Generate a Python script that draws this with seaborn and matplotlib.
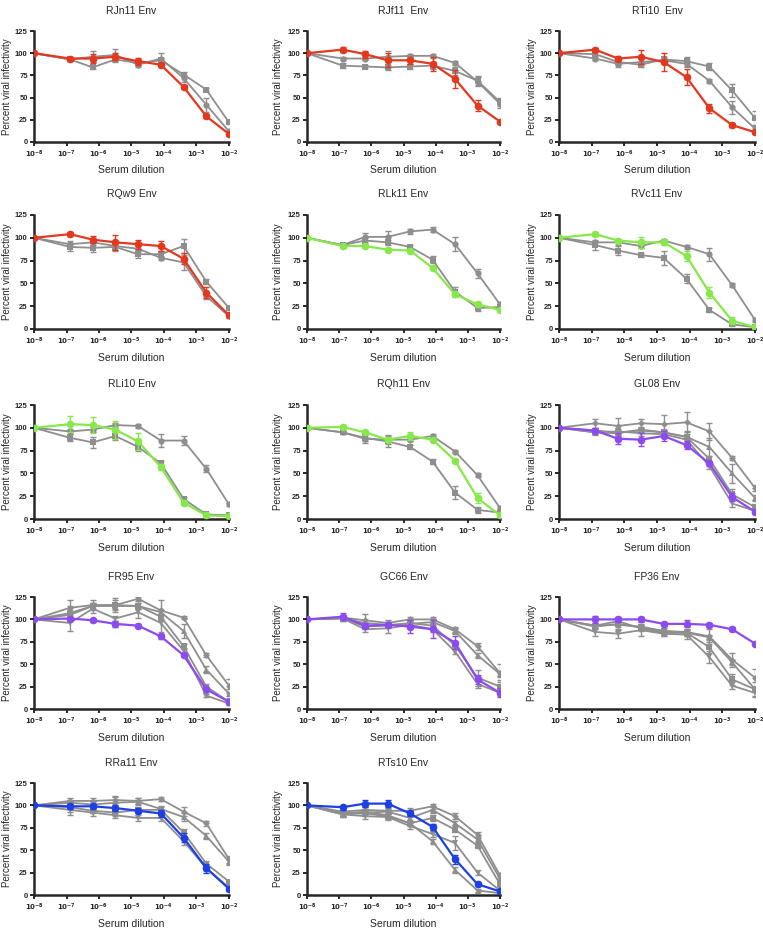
import numpy as np
import pandas as pd
import matplotlib
matplotlib.use("Agg")
import matplotlib.pyplot as plt
import seaborn as sns

# serum dilutions (5-fold series, plus no-serum control plotted at 1e-8)
dilution = [1e-8, 1.28e-7, 6.4e-7, 3.2e-6, 1.6e-5, 8e-5, 4e-4, 2e-3, 1e-2]
xtick_pos = [1e-8, 1e-7, 1e-6, 1e-5, 1e-4, 1e-3, 1e-2]
xtick_labels = [r"$\mathbf{10^{-8}}$", r"$\mathbf{10^{-7}}$", r"$\mathbf{10^{-6}}$",
                r"$\mathbf{10^{-5}}$", r"$\mathbf{10^{-4}}$", r"$\mathbf{10^{-3}}$",
                r"$\mathbf{10^{-2}}$"]
ytick_pos = [0, 25, 50, 75, 100, 125]

titles = ["RJn11 Env", "RJf11  Env", "RTi10  Env",
          "RQw9 Env", "RLk11 Env", "RVc11 Env",
          "RLi10 Env", "RQh11 Env", "GL08 Env",
          "FR95 Env", "GC66 Env", "FP36 Env",
          "RRa11 Env", "RTs10 Env"]

# values, error bars
rjn11_red = [100, 94, 94, 96, 91, 87, 62, 29, 9]
rjn11_red_err = [0, 2, 5, 4, 4, 2, 2, 2, 2]
rjn11_gray_o = [100, 93, 96, 98, 87, 94, 72, 42, 12]
rjn11_gray_o_err = [0, 2, 6, 7, 3, 6, 4, 8, 2]
rjn11_gray_s = [100, 93, 84, 93, 89, 92, 76, 59, 22]
rjn11_gray_s_err = [0, 2, 2, 3, 2, 3, 3, 2, 2]

rjf11_red = [100, 104, 99, 92, 92, 88, 71, 41, 23]
rjf11_red_err = [0, 3, 4, 8, 4, 8, 10, 6, 1]
rjf11_gray_o = [100, 94, 94, 96, 97, 97, 89, 68, 43]
rjf11_gray_o_err = [0, 2, 2, 6, 2, 2, 2, 5, 5]
rjf11_gray_s = [100, 86, 85, 84, 85, 86, 80, 69, 45]
rjf11_gray_s_err = [0, 3, 2, 3, 3, 4, 4, 5, 4]

rti10_red = [100, 104, 94, 96, 90, 73, 38, 19, 11]
rti10_red_err = [0, 2, 3, 8, 10, 9, 5, 2, 2]
rti10_gray_o = [100, 94, 88, 90, 92, 88, 69, 39, 15]
rti10_gray_o_err = [0, 2, 4, 3, 3, 4, 2, 7, 3]
rti10_gray_s = [100, 99, 90, 87, 93, 91, 85, 58, 27]
rti10_gray_s_err = [0, 2, 3, 3, 3, 5, 4, 7, 8]

rqw9_red = [100, 104, 98, 95, 93, 91, 77, 40, 15]
rqw9_red_err = [0, 2, 4, 8, 5, 6, 6, 6, 2]
rqw9_gray_o = [100, 93, 95, 91, 88, 78, 73, 36, 14]
rqw9_gray_o_err = [0, 3, 3, 4, 3, 2, 8, 3, 2]
rqw9_gray_s = [100, 90, 89, 90, 82, 82, 91, 52, 23]
rqw9_gray_s_err = [0, 4, 5, 4, 4, 3, 8, 3, 2]

rlk11_green = [100, 91, 91, 87, 86, 67, 38, 27, 21]
rlk11_green_err = [0, 2, 2, 2, 2, 2, 3, 3, 2]
rlk11_gray_o = [100, 92, 101, 101, 107, 109, 93, 61, 27]
rlk11_gray_o_err = [0, 2, 4, 6, 3, 3, 8, 5, 3]
rlk11_gray_s = [100, 92, 97, 95, 90, 76, 41, 23, 24]
rlk11_gray_s_err = [0, 2, 3, 3, 2, 4, 5, 3, 3]

rvc11_green = [100, 104, 97, 95, 95, 80, 40, 9, 2]
rvc11_green_err = [0, 2, 2, 6, 3, 5, 6, 4, 1]
rvc11_gray_o = [100, 95, 95, 91, 97, 90, 82, 48, 10]
rvc11_gray_o_err = [0, 3, 3, 2, 2, 2, 7, 2, 2]
rvc11_gray_s = [100, 92, 86, 81, 78, 55, 21, 5, 2]
rvc11_gray_s_err = [0, 5, 5, 2, 8, 5, 2, 2, 1]

rli10_green = [100, 104, 103, 98, 85, 57, 18, 4, 3]
rli10_green_err = [0, 9, 9, 10, 9, 3, 3, 2, 2]
rli10_gray_o = [100, 96, 98, 103, 102, 86, 86, 55, 16]
rli10_gray_o_err = [0, 3, 3, 2, 2, 7, 5, 4, 2]
rli10_gray_s = [100, 89, 84, 91, 79, 61, 22, 5, 4]
rli10_gray_s_err = [0, 4, 6, 4, 4, 3, 2, 2, 2]

rqh11_green = [100, 101, 95, 87, 91, 87, 64, 23, 4]
rqh11_green_err = [0, 2, 2, 3, 4, 2, 2, 5, 2]
rqh11_gray_o = [100, 95, 88, 87, 87, 91, 74, 48, 12]
rqh11_gray_o_err = [0, 2, 5, 5, 2, 2, 2, 2, 2]
rqh11_gray_s = [100, 95, 89, 85, 79, 63, 29, 10, 7]
rqh11_gray_s_err = [0, 2, 3, 6, 2, 3, 7, 3, 2]

gl08_purple = [100, 97, 88, 87, 91, 81, 61, 24, 8]
gl08_purple_err = [0, 3, 6, 7, 5, 4, 3, 4, 2]
gl08_gray_d = [100, 105, 102, 105, 104, 106, 96, 67, 34]
gl08_gray_d_err = [0, 5, 9, 5, 10, 11, 9, 2, 3]
gl08_gray_t = [100, 95, 94, 98, 95, 90, 79, 50, 23]
gl08_gray_t_err = [0, 3, 3, 3, 3, 7, 10, 10, 3]
gl08_gray_s = [100, 97, 95, 97, 95, 90, 66, 27, 13]
gl08_gray_s_err = [0, 2, 3, 3, 3, 3, 3, 6, 3]
gl08_gray_v = [100, 95, 96, 94, 93, 87, 58, 17, 9]
gl08_gray_v_err = [0, 2, 3, 3, 3, 3, 3, 4, 2]

fr95_purple = [100, 101, 99, 95, 93, 81, 60, 22, 8]
fr95_purple_err = [0, 2, 2, 3, 2, 3, 2, 3, 2]
fr95_gray_d = [100, 113, 116, 116, 123, 110, 102, 60, 26]
fr95_gray_d_err = [0, 9, 6, 8, 2, 12, 2, 2, 8]
fr95_gray_t = [100, 105, 115, 115, 115, 108, 87, 44, 17]
fr95_gray_t_err = [0, 3, 3, 3, 3, 3, 8, 4, 5]
fr95_gray_s = [100, 107, 115, 116, 115, 103, 70, 25, 8]
fr95_gray_s_err = [0, 8, 3, 6, 3, 3, 3, 3, 2]
fr95_gray_v = [100, 96, 112, 101, 108, 96, 65, 15, 6]
fr95_gray_v_err = [0, 9, 5, 3, 6, 10, 3, 2, 2]

gc66_purple = [100, 103, 93, 94, 92, 89, 74, 33, 18]
gc66_purple_err = [0, 4, 3, 3, 7, 10, 7, 5, 5]
gc66_gray_d = [100, 102, 99, 96, 100, 100, 89, 70, 40]
gc66_gray_d_err = [0, 3, 7, 3, 3, 3, 3, 4, 10]
gc66_gray_t = [100, 101, 96, 94, 95, 97, 87, 60, 39]
gc66_gray_t_err = [0, 3, 3, 3, 3, 3, 3, 3, 3]
gc66_gray_s = [100, 102, 92, 93, 96, 93, 71, 35, 25]
gc66_gray_s_err = [0, 3, 3, 3, 3, 3, 3, 9, 7]
gc66_gray_v = [100, 101, 89, 90, 94, 89, 64, 28, 18]
gc66_gray_v_err = [0, 3, 3, 5, 3, 3, 3, 5, 3]

fp36_purple = [100, 100, 100, 100, 95, 95, 94, 89, 73]
fp36_purple_err = [0, 4, 3, 3, 2, 4, 2, 2, 2]
fp36_gray_d = [100, 93, 94, 92, 87, 86, 81, 55, 35]
fp36_gray_d_err = [0, 3, 3, 3, 3, 3, 8, 8, 10]
fp36_gray_t = [100, 93, 98, 90, 85, 85, 80, 52, 22]
fp36_gray_t_err = [0, 3, 3, 3, 3, 3, 3, 3, 3]
fp36_gray_s = [100, 92, 95, 91, 87, 85, 69, 33, 22]
fp36_gray_s_err = [0, 3, 7, 3, 3, 3, 6, 6, 8]
fp36_gray_v = [100, 86, 84, 88, 84, 83, 58, 26, 18]
fp36_gray_v_err = [0, 4, 5, 6, 3, 5, 7, 4, 5]

rra11_blue = [100, 99, 99, 97, 94, 91, 64, 30, 7]
rra11_blue_err = [0, 3, 3, 3, 3, 4, 5, 5, 2]
rra11_gray_d = [100, 105, 105, 106, 105, 107, 93, 80, 40]
rra11_gray_d_err = [0, 3, 3, 3, 3, 2, 5, 3, 4]
rra11_gray_t = [100, 103, 101, 103, 104, 96, 87, 66, 37]
rra11_gray_t_err = [0, 3, 3, 8, 4, 3, 4, 3, 4]
rra11_gray_s = [100, 98, 94, 92, 95, 95, 70, 35, 15]
rra11_gray_s_err = [0, 5, 3, 4, 3, 3, 4, 3, 2]
rra11_gray_v = [100, 95, 92, 89, 86, 86, 60, 30, 8]
rra11_gray_v_err = [0, 6, 4, 3, 3, 3, 4, 3, 2]

rts10_blue = [100, 98, 102, 102, 91, 76, 40, 12, 4]
rts10_blue_err = [0, 3, 4, 4, 3, 3, 5, 2, 1]
rts10_gray_d = [100, 93, 95, 94, 94, 99, 88, 67, 22]
rts10_gray_d_err = [0, 3, 3, 3, 3, 3, 3, 3, 3]
rts10_gray_t = [100, 90, 92, 93, 86, 95, 80, 62, 18]
rts10_gray_t_err = [0, 3, 3, 3, 3, 3, 3, 3, 3]
rts10_gray_s = [100, 91, 91, 88, 80, 86, 73, 55, 12]
rts10_gray_s_err = [0, 3, 3, 3, 3, 3, 3, 3, 3]
rts10_gray_v = [100, 90, 88, 87, 77, 68, 58, 25, 5]
rts10_gray_v_err = [0, 3, 3, 3, 3, 3, 8, 3, 2]
rts10_gray_o = [100, 91, 93, 89, 80, 60, 28, 5, 2]
rts10_gray_o_err = [0, 3, 3, 3, 3, 3, 3, 2, 1]

GRAY = "#8e8e8e"
RED = "#e2381f"
GREEN = "#86e84a"
PURPLE = "#8b4bef"
BLUE = "#1d3fe4"

# (values, errors, marker, color) per panel; colored series last so it sits on top
panels = [
    [(rjn11_gray_o, rjn11_gray_o_err, "o", GRAY), (rjn11_gray_s, rjn11_gray_s_err, "s", GRAY),
     (rjn11_red, rjn11_red_err, "o", RED)],
    [(rjf11_gray_o, rjf11_gray_o_err, "o", GRAY), (rjf11_gray_s, rjf11_gray_s_err, "s", GRAY),
     (rjf11_red, rjf11_red_err, "o", RED)],
    [(rti10_gray_o, rti10_gray_o_err, "o", GRAY), (rti10_gray_s, rti10_gray_s_err, "s", GRAY),
     (rti10_red, rti10_red_err, "o", RED)],
    [(rqw9_gray_o, rqw9_gray_o_err, "o", GRAY), (rqw9_gray_s, rqw9_gray_s_err, "s", GRAY),
     (rqw9_red, rqw9_red_err, "o", RED)],
    [(rlk11_gray_o, rlk11_gray_o_err, "o", GRAY), (rlk11_gray_s, rlk11_gray_s_err, "s", GRAY),
     (rlk11_green, rlk11_green_err, "o", GREEN)],
    [(rvc11_gray_o, rvc11_gray_o_err, "o", GRAY), (rvc11_gray_s, rvc11_gray_s_err, "s", GRAY),
     (rvc11_green, rvc11_green_err, "o", GREEN)],
    [(rli10_gray_o, rli10_gray_o_err, "o", GRAY), (rli10_gray_s, rli10_gray_s_err, "s", GRAY),
     (rli10_green, rli10_green_err, "o", GREEN)],
    [(rqh11_gray_o, rqh11_gray_o_err, "o", GRAY), (rqh11_gray_s, rqh11_gray_s_err, "s", GRAY),
     (rqh11_green, rqh11_green_err, "o", GREEN)],
    [(gl08_gray_d, gl08_gray_d_err, "D", GRAY), (gl08_gray_t, gl08_gray_t_err, "^", GRAY),
     (gl08_gray_s, gl08_gray_s_err, "s", GRAY), (gl08_gray_v, gl08_gray_v_err, "v", GRAY),
     (gl08_purple, gl08_purple_err, "o", PURPLE)],
    [(fr95_gray_d, fr95_gray_d_err, "D", GRAY), (fr95_gray_t, fr95_gray_t_err, "^", GRAY),
     (fr95_gray_s, fr95_gray_s_err, "s", GRAY), (fr95_gray_v, fr95_gray_v_err, "v", GRAY),
     (fr95_purple, fr95_purple_err, "o", PURPLE)],
    [(gc66_gray_d, gc66_gray_d_err, "D", GRAY), (gc66_gray_t, gc66_gray_t_err, "^", GRAY),
     (gc66_gray_s, gc66_gray_s_err, "s", GRAY), (gc66_gray_v, gc66_gray_v_err, "v", GRAY),
     (gc66_purple, gc66_purple_err, "o", PURPLE)],
    [(fp36_gray_d, fp36_gray_d_err, "D", GRAY), (fp36_gray_t, fp36_gray_t_err, "^", GRAY),
     (fp36_gray_s, fp36_gray_s_err, "s", GRAY), (fp36_gray_v, fp36_gray_v_err, "v", GRAY),
     (fp36_purple, fp36_purple_err, "o", PURPLE)],
    [(rra11_gray_d, rra11_gray_d_err, "D", GRAY), (rra11_gray_t, rra11_gray_t_err, "^", GRAY),
     (rra11_gray_s, rra11_gray_s_err, "s", GRAY), (rra11_gray_v, rra11_gray_v_err, "v", GRAY),
     (rra11_blue, rra11_blue_err, "o", BLUE)],
    [(rts10_gray_d, rts10_gray_d_err, "D", GRAY), (rts10_gray_t, rts10_gray_t_err, "^", GRAY),
     (rts10_gray_s, rts10_gray_s_err, "s", GRAY), (rts10_gray_v, rts10_gray_v_err, "v", GRAY),
     (rts10_gray_o, rts10_gray_o_err, "^", GRAY),
     (rts10_blue, rts10_blue_err, "o", BLUE)],
]

sns.set_style("ticks")
plt.rcParams["font.family"] = ["Liberation Sans", "DejaVu Sans"]

W, H = 763, 931
fig = plt.figure(figsize=(W / 100, H / 100), dpi=100)

# pixel extents of each column / row of axes
col_x = [(34, 229), (307, 500), (559, 755)]
row_y = [(31, 142), (215, 329), (405, 519), (597, 709), (783, 895)]
ylab_x = [-0.115, -0.125, -0.11]

for i, (title, series) in enumerate(zip(titles, panels)):
    r, c = divmod(i, 3)
    x0, x1 = col_x[c]
    y0, y1 = row_y[r]
    ax = fig.add_axes([x0 / W, 1 - y1 / H, (x1 - x0) / W, (y1 - y0) / H])
    ax.set_xscale("log")

    for vals, err, mk, color in series:
        colored = color != GRAY
        lw = 1.6 if colored else 1.3
        ms = 5.5 if colored else (3.5 if mk == "D" else 4.5)
        df = pd.DataFrame({"dilution": dilution, "pct": vals})
        ax.errorbar(dilution, vals, yerr=err, fmt="none", ecolor=color,
                    elinewidth=1.0, capsize=2.5, capthick=1.0, zorder=3 if colored else 2)
        sns.lineplot(data=df, x="dilution", y="pct", ax=ax, color=color, lw=lw,
                     marker=mk, markersize=ms, markeredgewidth=0,
                     zorder=4 if colored else 2, legend=False)

    ax.set_xlim(1e-8, 1e-2)
    ax.set_ylim(0, 125)
    ax.set_xticks(xtick_pos)
    ax.set_xticklabels(xtick_labels, fontsize=5)
    ax.xaxis.set_minor_locator(matplotlib.ticker.NullLocator())
    ax.set_yticks(ytick_pos)
    ax.set_yticklabels([str(v) for v in ytick_pos], fontsize=5.5, fontweight="bold")
    ax.tick_params(width=1.4, length=3, pad=1.5)
    for s in ["left", "bottom"]:
        ax.spines[s].set_linewidth(1.8)
    sns.despine(ax=ax)

    ax.set_xlabel("Serum dilution", fontsize=7.5)
    ax.xaxis.set_label_coords(0.5, -0.21)
    ax.set_ylabel("Percent viral infectivity", fontsize=7)
    ax.yaxis.set_label_coords(ylab_x[c], 0.5)
    ax.text(0.5, 1.18, title, transform=ax.transAxes, ha="center", va="center",
            fontsize=7.5)

fig.savefig("out.png", dpi=100, facecolor="white")
